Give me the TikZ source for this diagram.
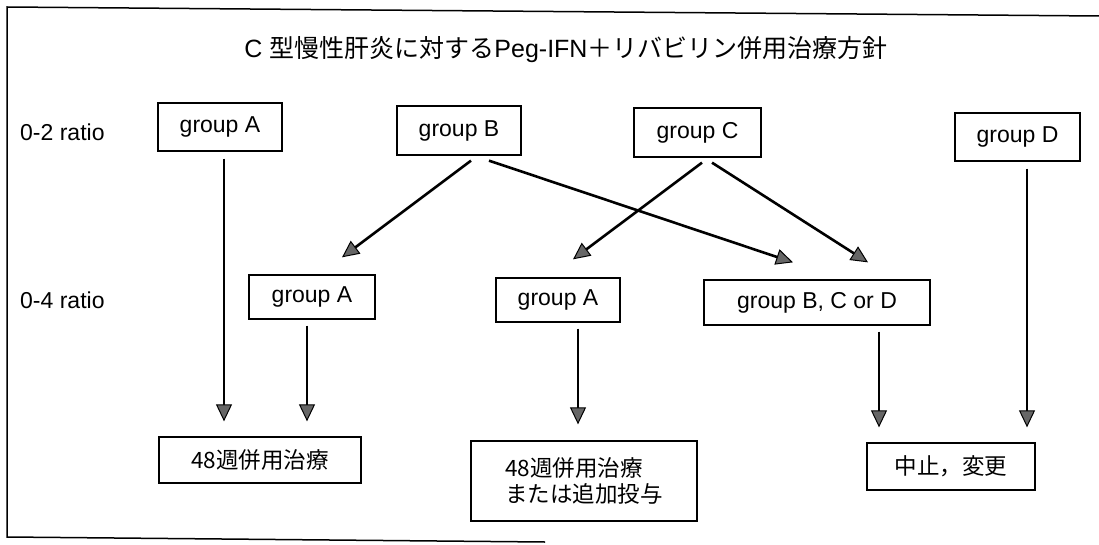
\documentclass[tikz,border=0pt]{standalone}
\usepackage{fontspec}
\setmainfont{Liberation Sans}
\newfontfamily\cjk{Noto Sans CJK JP}
\usetikzlibrary{arrows.meta,calc}
\begin{document}
\begin{tikzpicture}[x=1pt,y=-1pt,
  box/.style={draw, line width=1.3pt, inner sep=0pt, font=\fontsize{23}{27}\selectfont},
  jbox/.style={draw, line width=1.3pt, inner sep=0pt, font=\cjk\fontsize{22.5}{26}\selectfont},
  lbl/.style={font=\fontsize{23}{27}\selectfont, inner sep=0pt},
  arr/.style={line width=2.6pt, -{Triangle[length=17pt,width=16pt,fill=black!60,line width=1pt]}}]
\useasboundingbox (0,0) rectangle (1099,545);
\draw[line width=1.5pt] (1099,16) -- (7,7) -- (7,537) -- (545,542);

\node[lbl, font=\fontsize{25}{30}\selectfont] (title) at (566,50)
  {C \cjk 型慢性肝炎に対する\rmfamily Peg-IFN\cjk ＋リバビリン併用治療方針};

\node[lbl, anchor=west] (r1) at (20,132) {0-2 ratio};
\node[lbl, anchor=west] (r2) at (20,300) {0-4 ratio};

\node[box, minimum width=124pt, minimum height=48pt] (TA) at (220,127) {group A};
\node[box, minimum width=124pt, minimum height=49pt] (TB) at (459,130.5) {group B};
\node[box, minimum width=127pt, minimum height=49pt] (TC) at (697.5,132.5) {group C};
\node[box, minimum width=125pt, minimum height=48pt] (TD) at (1017.5,137) {group D};

\node[box, minimum width=126pt, minimum height=44pt] (MA1) at (312,297) {group A};
\node[box, minimum width=124pt, minimum height=44pt] (MA2) at (558,300) {group A};
\node[box, minimum width=226pt, minimum height=45pt] (MX) at (817,302.5) {group B, C or D};

\node[jbox, minimum width=202pt, minimum height=46pt] (BL) at (260,460) {48週併用治療};
\node[jbox, minimum width=226pt, minimum height=80pt, align=left] (BM) at (584,481) {48週併用治療\\または追加投与};
\node[jbox, minimum width=168pt, minimum height=47pt] (BR) at (951,466.5) {中止，変更};

\draw[arr] ($(TA.south)+(4,7)$) -- ($(BL.north)+(-36,-15)$);
\draw[arr] ($(MA1.south)+(-5,6)$) -- ($(BL.north)+(47,-15)$);
\draw[arr] ($(MA2.south)+(20,6)$) -- ($(BM.north)+(-6,-16)$);
\draw[arr] ($(MX.south)+(62,6)$) -- ($(BR.north)+(-72,-15)$);
\draw[arr] ($(TD.south)+(9.5,7)$) -- ($(BR.north)+(76,-15)$);

\draw[arr] ($(TB.south)+(12,5)$) -- ($(MA1.north)+(30,-17)$);
\draw[arr] ($(TB.south)+(30,5)$) -- ($(MX.north)+(-24,-17)$);
\draw[arr] ($(TC.south)+(4.5,5)$) -- ($(MA2.north)+(15,-18)$);
\draw[arr] ($(TC.south)+(14.5,5)$) -- ($(MX.north)+(51,-17)$);
\end{tikzpicture}
\end{document}
